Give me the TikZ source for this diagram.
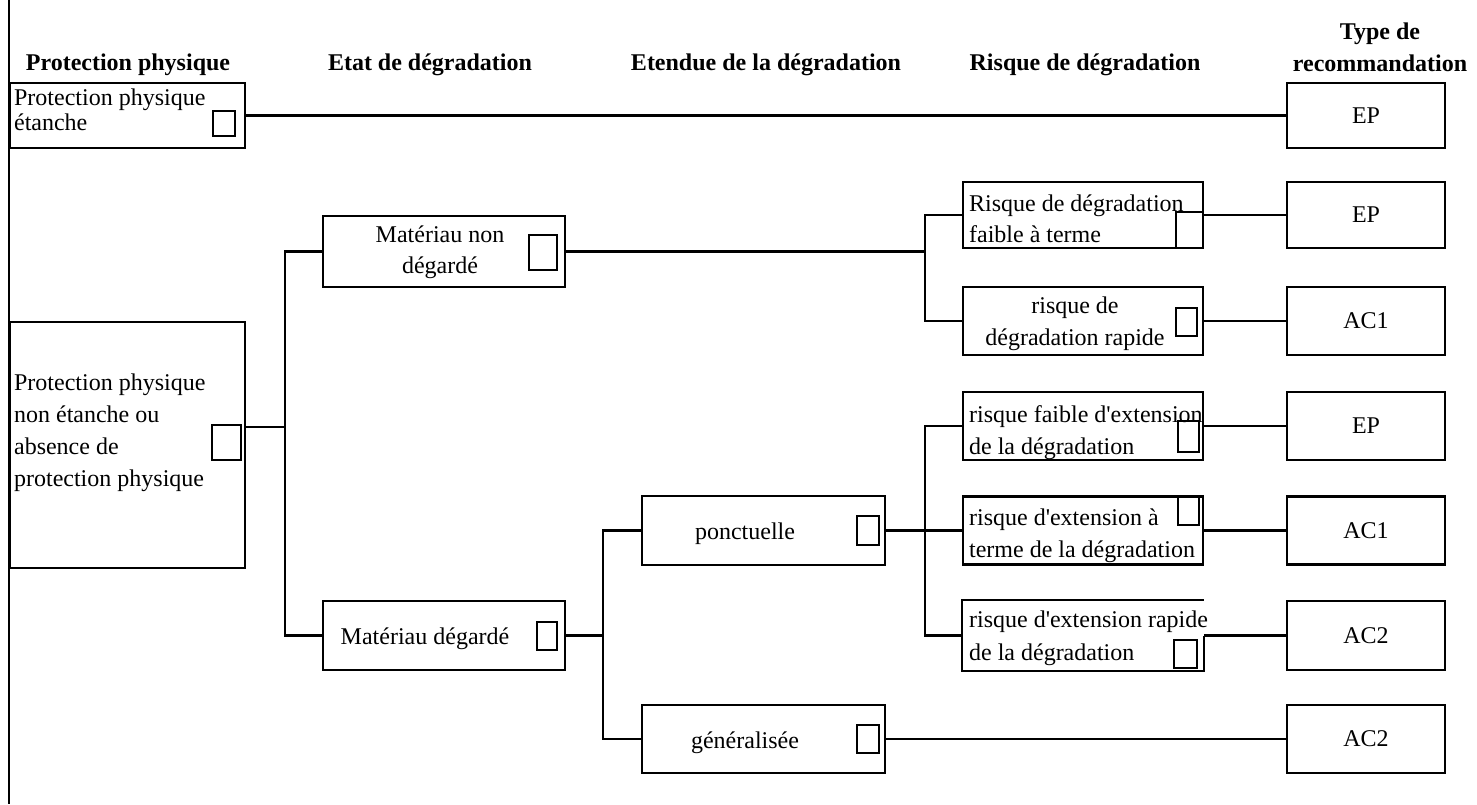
\documentclass[tikz,border=0pt]{standalone}
\usepackage{fontspec}
\setmainfont{Liberation Serif}[Ligatures=TeXOff]
\begin{document}
\begin{tikzpicture}[x=1pt,y=-1pt,line width=2.2pt,
  wh/.style 2 args={rectangle,inner sep=0pt,minimum width=#1pt,minimum height=#2pt},
  box/.style={draw},
  chk/.style={draw,line width=1.6pt},
  lbl/.style={inner sep=0pt,font=\fontsize{24}{32}\selectfont},
  hdr/.style={inner sep=0pt,font=\fontsize{24}{32}\selectfont\bfseries},
  left text/.style={lbl,align=left,anchor=north west},
  mid text/.style={lbl,align=center,anchor=north},
  one line/.style={lbl,anchor=base}]
\useasboundingbox (0,0) rectangle (1477,804);
\draw (9,0) -- (9,804);

% headers
\node[hdr,anchor=base] (h1) at (128,70) {Protection physique};
\node[hdr,anchor=base] (h2) at (430,70) {Etat de dégradation};
\node[hdr,anchor=base] (h3) at (766,70) {Etendue de la dégradation};
\node[hdr,anchor=base] (h4) at (1085,70) {Risque de dégradation};
\node[hdr,align=center,anchor=north] (h5) at (1380,15.6) {\strut Type de\\recommandation};

% column 1
\node[box,wh={235}{65}] (A) at (127.5,115.5) {};
\node[left text,font=\fontsize{24}{25}\selectfont] (tA) at (13,86.5) {\strut Protection physique\\étanche};
\node[chk,wh={22}{25}] (cA) at (224,123.5) {};

\node[box,wh={235}{246}] (B) at (127.5,445) {};
\node[left text] (tB) at (13,366.6) {\strut Protection physique\\non étanche ou\\absence de\\protection physique};
\node[chk,wh={29}{35}] (cB) at (226.5,442.5) {};

% column 2
\node[box,wh={242}{71}] (C) at (444,251.5) {};
\node[mid text,font=\fontsize{24}{31}\selectfont] (tC) at (440,219.3) {\strut Matériau non\\dégardé};
\node[chk,wh={28}{35}] (cC) at (543,252.5) {};

\node[box,wh={242}{69}] (D) at (444,635.5) {};
\node[one line] (tD) at (425,644) {Matériau dégardé};
\node[chk,wh={20}{28}] (cD) at (547,636) {};

% column 3
\node[box,wh={243}{69}] (G) at (763.5,530.5) {};
\node[one line] (tG) at (745,539) {ponctuelle};
\node[chk,wh={22}{29}] (cG) at (868,530.5) {};

\node[box,wh={243}{68}] (H) at (763.5,739) {};
\node[one line] (tH) at (745,748) {généralisée};
\node[chk,wh={22}{28}] (cH) at (868,739) {};

% column 4
\node[box,wh={240}{66}] (E) at (1083,215) {};
\node[left text,font=\fontsize{24}{31}\selectfont] (tE) at (968,188.3) {\strut Risque de dégradation\\faible à terme};
\node[chk,wh={27}{36}] (cE) at (1189.5,230) {};

\node[box,wh={240}{68}] (F) at (1083,321) {};
\node[mid text] (tF) at (1075,289.6) {\strut risque de\\dégradation rapide};
\node[chk,wh={21}{28}] (cF) at (1186.5,322) {};

\node[box,wh={240}{68}] (I) at (1083,426) {};
\node[left text] (tI) at (968,398.6) {\strut risque faible d'extension\\de la dégradation};
\node[chk,wh={21}{31}] (cI) at (1188.5,436.5) {};

\node[box,wh={240}{68}] (J) at (1083,530.5) {};
\node[left text] (tJ) at (968,501.6) {\strut risque d'extension à\\terme de la dégradation};
\node[chk,wh={21}{28}] (cJ) at (1188.5,511) {};

\node[wh={240}{69}] (K) at (1083,635.5) {};
\draw (K.east) -- (K.south east) -- (K.south west) -- (K.north west) -- (K.north east);
\node[left text,font=\fontsize{24}{33}\selectfont] (tK) at (968,602.9) {\strut risque d'extension rapide\\de la dégradation};
\node[chk,wh={23}{28}] (cK) at (1185.5,654) {};

% column 5
\node[box,wh={158}{65}] (R1) at (1366,115.5) {};
\node[lbl] (tR1) at (R1) {EP};
\node[box,wh={158}{66}] (R2) at (1366,215) {};
\node[lbl] (tR2) at (R2) {EP};
\node[box,wh={158}{68}] (R3) at (1366,321) {};
\node[lbl] (tR3) at (R3) {AC1};
\node[box,wh={158}{68}] (R4) at (1366,426) {};
\node[lbl] (tR4) at (R4) {EP};
\node[box,wh={158}{68}] (R5) at (1366,530.5) {};
\node[lbl] (tR5) at (R5) {AC1};
\node[box,wh={158}{69}] (R6) at (1366,635.5) {};
\node[lbl] (tR6) at (R6) {AC2};
\node[box,wh={158}{68}] (R7) at (1366,739) {};
\node[lbl] (tR7) at (R7) {AC2};

% connectors
\coordinate (j1) at (285,427);
\coordinate (j2) at (925,251.5);
\coordinate (j3) at (603,635.5);
\coordinate (j4) at (925,530.5);
\draw (A.east) -- (R1.west);
\draw (B.east |- j1) -- (j1);
\draw (C.west) -| (j1) |- (D.west);
\draw (C.east) -- (j2);
\draw (E.west) -| (j2) |- (F.west);
\draw (D.east) -- (j3);
\draw (G.west) -| (j3) |- (H.west);
\draw (G.east) -- (j4);
\draw (I.west) -| (j4) |- (K.west);
\draw (J.west) -- (j4);
\draw (E.east) -- (R2.west);
\draw (F.east) -- (R3.west);
\draw (I.east) -- (R4.west);
\draw (J.east) -- (R5.west);
\draw (K.east) -- (R6.west);
\draw (H.east) -- (R7.west);
\end{tikzpicture}
\end{document}
